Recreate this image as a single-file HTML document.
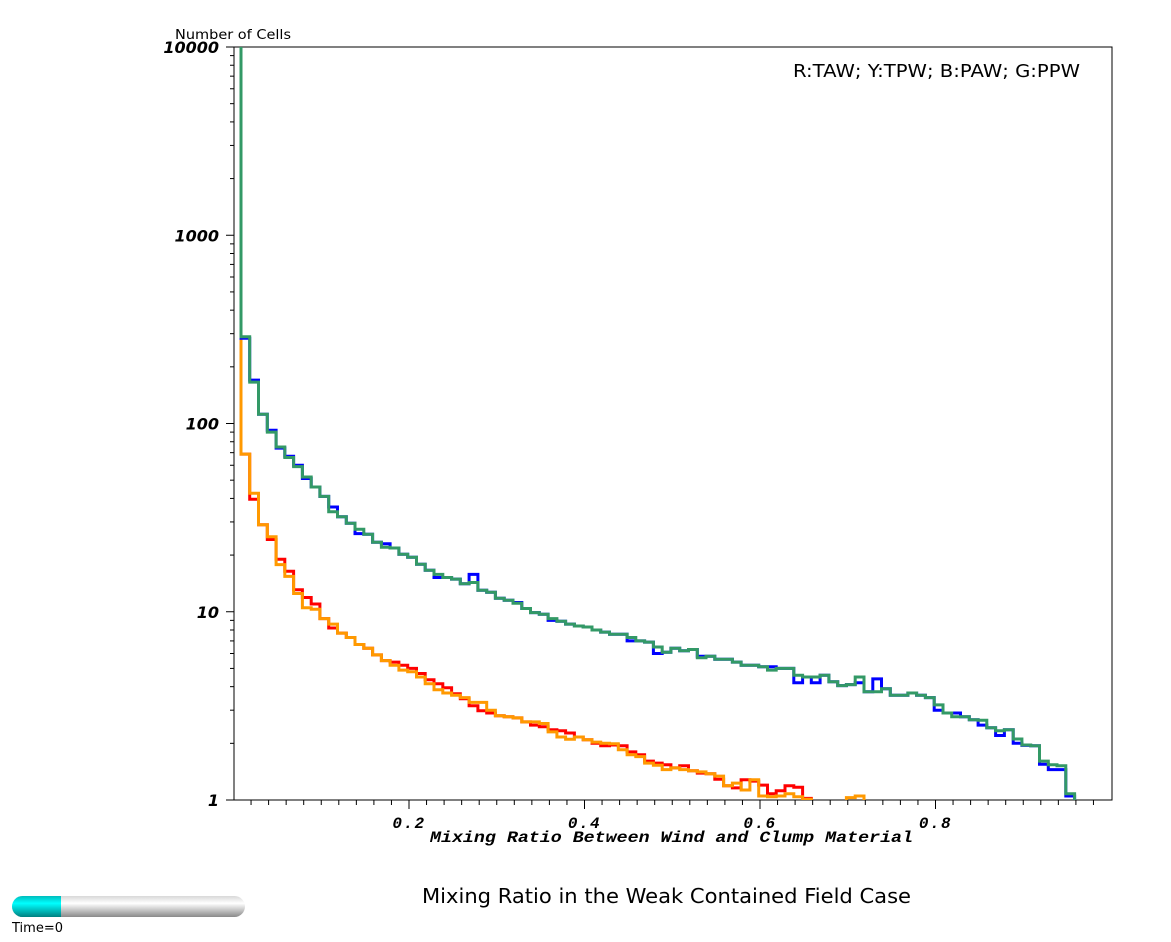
<!DOCTYPE html>
<html><head><meta charset="utf-8"><style>
html,body{margin:0;background:#fff;width:1171px;height:942px;overflow:hidden}
svg{display:block;position:absolute;left:0;top:0}
</style></head><body>
<svg width="1171" height="942" xmlns="http://www.w3.org/2000/svg">
<defs>
<clipPath id="pc"><rect x="234" y="47" width="878" height="753"/></clipPath>
<linearGradient id="gbar" x1="0" y1="0" x2="0" y2="1">
<stop offset="0" stop-color="#d8d8d8"/><stop offset="0.35" stop-color="#ffffff"/><stop offset="1" stop-color="#8a8a8a"/></linearGradient>
<linearGradient id="cbar" x1="0" y1="0" x2="0" y2="1">
<stop offset="0" stop-color="#00bcbc"/><stop offset="0.35" stop-color="#00ffff"/><stop offset="1" stop-color="#008080"/></linearGradient>
</defs>
<g id="axes"></g>
<g id="series" clip-path="url(#pc)"></g>
<text x="175" y="39" font-family="DejaVu Sans, sans-serif" font-size="13" textLength="116" lengthAdjust="spacingAndGlyphs">Number of Cells</text>
<text x="793" y="77" font-family="DejaVu Sans, sans-serif" font-size="18" textLength="287" lengthAdjust="spacingAndGlyphs">R:TAW; Y:TPW; B:PAW; G:PPW</text>
<text x="430" y="842" font-family="Liberation Mono, monospace" font-weight="bold" font-style="italic" font-size="16" textLength="483" lengthAdjust="spacingAndGlyphs">Mixing Ratio Between Wind and Clump Material</text>
<text x="422" y="903" font-family="DejaVu Sans, sans-serif" font-size="20" textLength="489" lengthAdjust="spacingAndGlyphs">Mixing Ratio in the Weak Contained Field Case</text>
<g>
<rect x="12" y="896" width="233" height="21" rx="10.5" fill="url(#gbar)"/>
<path d="M22.5,896 H61 V917 H22.5 A10.5,10.5 0 0 1 22.5,896 Z" fill="url(#cbar)"/>
</g>
<text x="12" y="932" font-family="DejaVu Sans, sans-serif" font-size="13">Time=0</text>
</svg>
<script>
const binStart = 0.0085;
const binWidth = 0.01;
const firstSpike = 50000;
const ppw = [289,166,112,90,75,66,59,52,46,41,34,32,29.5,27.4,25.8,23.4,22,21.8,20.2,19.5,17.9,16.6,15.8,15.2,14.9,14.1,14.3,13.0,12.7,11.8,11.5,11.1,10.4,9.9,9.7,9.2,8.9,8.6,8.4,8.3,8.0,7.8,7.6,7.6,7.3,7.0,6.9,6.5,6.1,6.4,6.2,6.3,5.7,5.8,5.6,5.6,5.4,5.2,5.2,5.1,4.9,5.0,5.0,4.6,4.5,4.5,4.6,4.25,4.05,4.1,4.5,3.76,3.76,3.9,3.6,3.6,3.7,3.6,3.5,3.2,2.9,2.77,2.77,2.67,2.65,2.42,2.33,2.36,2.11,1.96,1.94,1.61,1.54,1.52,1.08];
const paw = [284,170,112,92,74,67,60,51,46,41,36,32,29.5,26,25.8,23.4,23,21.8,20.2,19.5,17.9,16.6,15.2,15.2,14.9,14.1,15.8,13.0,12.7,11.8,11.5,11.2,10.4,9.9,9.7,9.0,8.9,8.6,8.4,8.3,8.0,7.8,7.6,7.6,7.0,7.0,6.9,6.0,6.1,6.4,6.2,6.3,5.8,5.8,5.6,5.6,5.4,5.2,5.2,5.1,5.1,5.0,5.0,4.2,4.5,4.2,4.6,4.25,4.05,4.1,4.2,3.76,4.4,3.9,3.6,3.6,3.7,3.6,3.5,3.0,2.9,2.9,2.77,2.67,2.5,2.42,2.2,2.36,2.0,1.95,1.94,1.55,1.45,1.45,1.05];
const taw = [68.8,39.6,29,24.2,19.0,16.4,13.1,11.9,11.0,9.2,8.2,7.7,7.3,6.7,6.4,5.9,5.5,5.4,5.2,5.0,4.7,4.35,4.15,3.95,3.67,3.45,3.17,2.98,2.9,2.8,2.77,2.73,2.6,2.5,2.45,2.36,2.33,2.27,2.16,2.09,2.0,1.94,1.96,1.94,1.8,1.74,1.61,1.57,1.54,1.48,1.52,1.43,1.39,1.38,1.29,1.19,1.16,1.28,1.26,1.2,1.08,1.12,1.19,1.17,1.02,0.3];
const tpw = [68.8,42.6,29,25,17.8,15.4,12.5,10.5,10.3,9.2,8.6,7.7,7.3,6.7,6.4,5.9,5.5,5.2,4.9,4.8,4.5,4.15,3.85,3.7,3.6,3.5,3.3,3.3,3.0,2.8,2.77,2.73,2.6,2.6,2.55,2.3,2.16,2.1,2.16,2.09,2.03,2.0,1.99,1.85,1.74,1.7,1.57,1.53,1.45,1.48,1.45,1.43,1.41,1.38,1.34,1.19,1.23,1.13,1.28,1.05,1.04,1.05,1.08,1.04,1.01,0.5,0.5,0.5,0.5,1.03,1.05,0.3];
const seriesColors = {taw:'#ff0000', tpw:'#ff9900', paw:'#0000ff', ppw:'#339966'};
const xTicksMajor = [0.2,0.4,0.6,0.8];
const yTicksMajor = [1,10,100,1000,10000];

const L=234,R=1112,T=47,B=800;
const xS = v => 233.5 + v*877.5;
const yS = v => B - (Math.log10(v))*((B-T)/4);
const NS='http://www.w3.org/2000/svg';
function mk(tag, attrs, parent){const e=document.createElementNS(NS,tag);for(const k in attrs)e.setAttribute(k,attrs[k]);parent.appendChild(e);return e;}
const axes=document.getElementById('axes');
const series=document.getElementById('series');

function stepPath(vals){
  let d = `M${xS(binStart).toFixed(1)},${yS(firstSpike).toFixed(1)}`;
  vals.forEach((v,i)=>{
    const x0=xS(binStart+i*binWidth), x1=xS(binStart+(i+1)*binWidth);
    const y=yS(Math.max(v,0.01));
    d+=` L${x0.toFixed(1)},${y.toFixed(1)} L${x1.toFixed(1)},${y.toFixed(1)}`;
  });
  const xe=xS(binStart+vals.length*binWidth);
  d+=` L${xe.toFixed(1)},${yS(0.01).toFixed(1)}`;
  return d;
}
[['taw',taw],['tpw',tpw],['paw',paw],['ppw',ppw]].forEach(([k,vals])=>{
  const p=mk('path',{d:stepPath(vals),fill:'none',stroke:seriesColors[k],'stroke-width':3,'stroke-linejoin':'miter'},series);
  
  
});

const frame=mk('rect',{x:L,y:T,width:R-L,height:B-T,fill:'none',stroke:'#000','stroke-width':1},axes);



yTicksMajor.forEach(v=>{
  const y=yS(v);
  const t=mk('line',{x1:226,x2:L,y1:y,y2:y,stroke:'#000'},axes);
  
  
  const lb=mk('text',{x:219,y:y+6,'text-anchor':'end','font-family':'DejaVu Sans, sans-serif','font-weight':'bold','font-style':'italic','font-size':16},axes);
  lb.textContent=String(v);
  
  
  if(v<10000){for(let m=2;m<=9;m++){const ym=yS(v*m);
    const mt=mk('line',{x1:230,x2:L,y1:ym,y2:ym,stroke:'#000'},axes);
    
    }}
});
for(let i=1;i<50;i++){
  const v=i*0.02, x=xS(v);
  const major = i%10===0;
  const t=mk('line',{x1:x,x2:x,y1:B,y2:B+(major?9:5),stroke:'#000'},axes);
  
  
}
xTicksMajor.forEach(v=>{
  const lb=mk('text',{x:xS(v),y:828,'text-anchor':'middle','font-family':'Liberation Mono, monospace','font-weight':'bold','font-style':'italic','font-size':16,'letter-spacing':'1.5'},axes);
  lb.textContent=v.toFixed(1);
  
  
});
</script>
</body></html>
